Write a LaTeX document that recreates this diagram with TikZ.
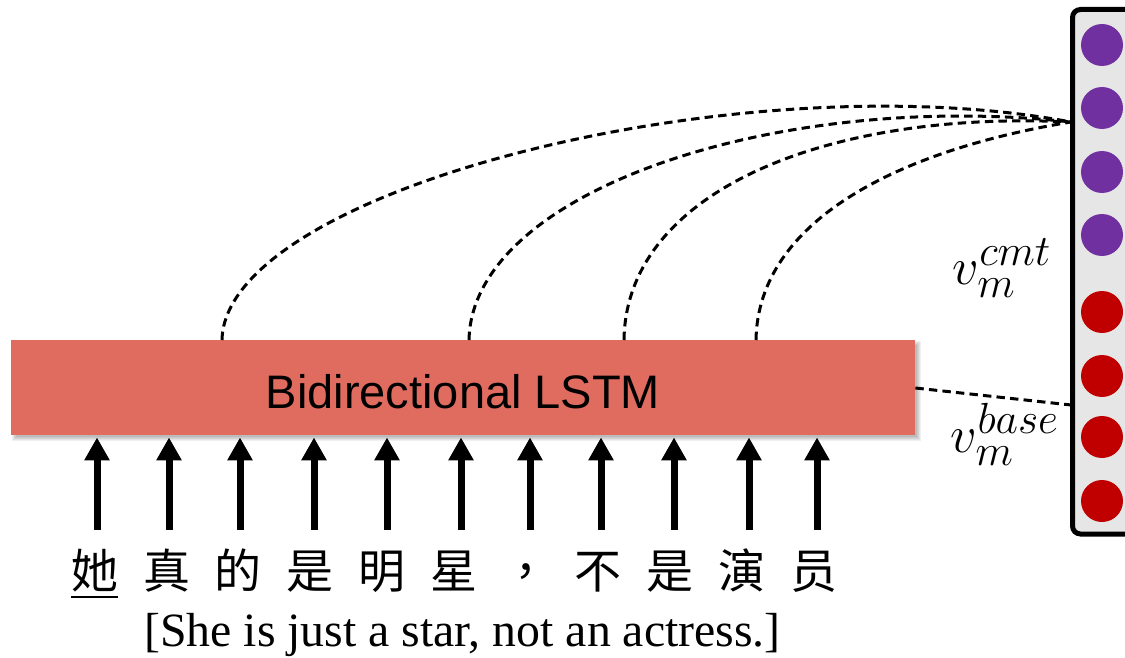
\documentclass[tikz,border=0pt]{standalone}
\usepackage{fontspec}
\setmainfont{Liberation Serif}
\newfontfamily\lsans{Liberation Sans}
\newfontfamily\cjk{Noto Sans CJK TC}
\usetikzlibrary{arrows.meta,calc}
\definecolor{lstmred}{RGB}{224,108,96}
\definecolor{vpurple}{RGB}{112,48,160}
\definecolor{vred}{RGB}{192,0,0}
\definecolor{vgray}{RGB}{231,230,230}
\begin{document}
\begin{tikzpicture}[x=0.5pt,y=-0.5pt,
  dashconn/.style={line width=1.5pt, dash pattern=on 4.2pt off 2.6pt},
  uparrow/.style={line width=3.5pt, -{Triangle[width=12pt,length=11.5pt]}, shorten >=1pt},
  dot/.style={circle, minimum size=21pt, inner sep=0pt},
  chr/.style={font=\cjk\fontsize{23.5}{28}\selectfont, inner sep=0pt, anchor=base},
  lstmbox/.style={fill=lstmred, minimum width=452pt, minimum height=47.5pt, inner sep=0pt,
    font=\lsans\fontsize{23.5}{28}\selectfont, text height=20.5pt, text depth=0pt},
  vecbox/.style={draw=black, line width=2.5pt, fill=vgray, rounded corners=4pt,
    minimum width=36.25pt, minimum height=262.25pt, inner sep=0pt},
  mlabel/.style={font=\fontsize{24.88}{30}\selectfont, inner sep=0pt}
]
\path[clip] (0,0) rectangle (1125,658);
% shadow of the LSTM box (bottom-right only)
\foreach \i in {1,...,5}
  \fill[black,opacity=0.06] (17-\i,346-\i) rectangle (916+\i,436+\i);
\node[lstmbox] (lstm) at (463,387.5) {Bidirectional LSTM};

% vector on the right
\node[vecbox] (vec) at (1108.75,271.75) {};
\foreach \y/\c [count=\k] in {45/vpurple,108/vpurple,172/vpurple,235/vpurple,312/vred,376/vred,437/vred,501/vred}
  \node[dot, fill=\c] (d\k) at (1102,\y) {};

\node[mlabel] (lcmt) at (1002,268) {\scalebox{1.05}{$v_m^{cmt}$}};
\node[mlabel] (lbase) at (1005,434) {\scalebox{1.05}{$v_m^{base}$}};

% words
\foreach \x/\w [count=\k] in {94.5/她,166.5/真,238.4/的,310.4/是,382.3/明,454.3/星,526.2/，,598.2/不,670.1/是,742.1/演,814/员}
  \node[chr] (c\k) at (\x,588) {\w};
\draw[line width=1.2pt] (71,597) -- (118,597);

\node[anchor=base, inner sep=0pt, font=\fontsize{23.9}{28}\selectfont] (eng) at (462.5,646)
  {[She is just a star, not an actress.]};

% input arrows
\foreach \x [count=\k] in {97,169,240,314,387,461,530,601,674,749,817}{
  \coordinate (a\k) at (\x,530);
  \draw[uparrow] (a\k) -- (a\k |- lstm.south);
}

% attention curves
\coordinate (hub) at (1071,122);
\coordinate (hubb) at (1071,405);
\coordinate (s1) at (222,340);
\coordinate (s2) at (469,340);
\coordinate (s3) at (624,340);
\coordinate (s4) at (756,340);
\draw[dashconn] (s1) .. controls (225,190) and (740,60) .. (hub);
\draw[dashconn] (s2) .. controls (472,190) and (780,90) .. (hub);
\draw[dashconn] (s3) .. controls (626,190) and (830,110) .. (hub);
\draw[dashconn] (s4) .. controls (758,220) and (900,150) .. (hub);
\draw[dashconn] (lstm.east |- 0,388) -- (hubb);
\end{tikzpicture}
\end{document}
